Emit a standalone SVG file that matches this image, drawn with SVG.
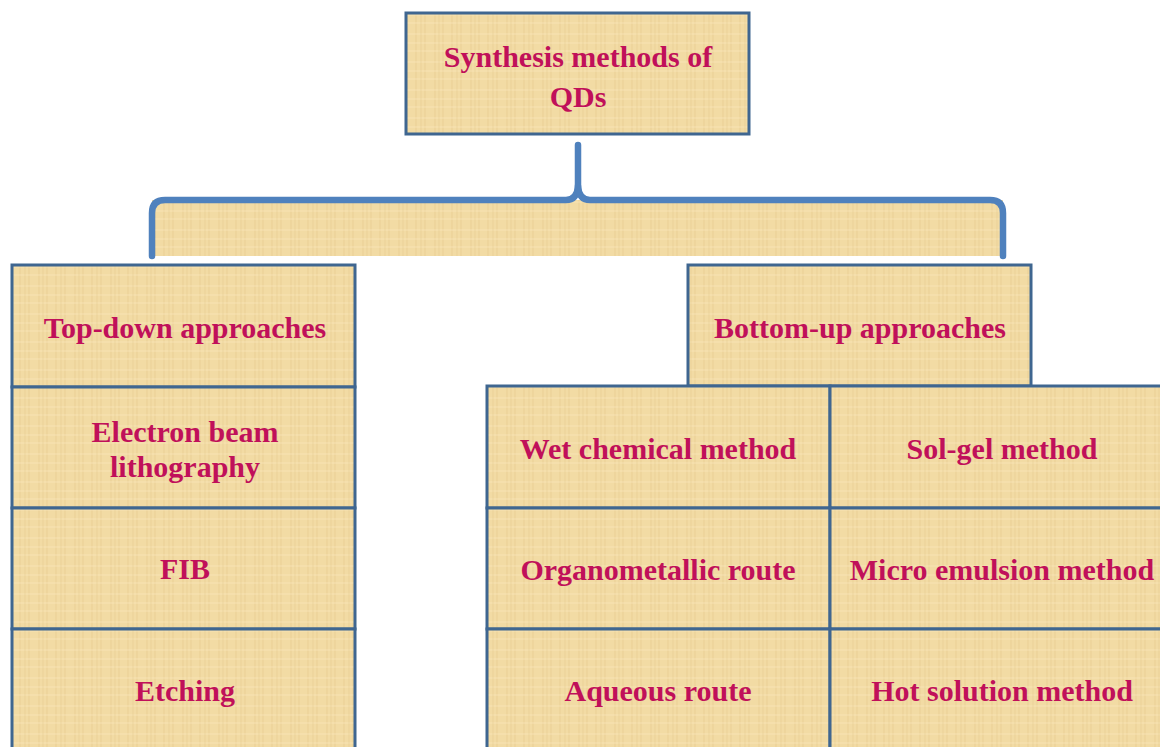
<svg xmlns="http://www.w3.org/2000/svg" width="1160" height="747" viewBox="0 0 1160 747">
<defs>
<pattern id="papyrus" patternUnits="userSpaceOnUse" width="36" height="28">
<rect width="36" height="28" fill="#f2dba4"/>
<path d="M3,0V28M11,0V28M20,0V28M29,0V28" stroke="#e2c487" stroke-width="1" opacity="0.55"/>
<path d="M0,6H36M0,15H36M0,23H36" stroke="#fbeac0" stroke-width="1.2" opacity="0.6"/>
<path d="M7,0V28M25,0V28" stroke="#d9b978" stroke-width="0.8" opacity="0.35"/>
</pattern>
<style>
.box{fill:url(#papyrus);stroke:#3f6690;stroke-width:3}
.t{font-family:"Liberation Serif","Times New Roman",serif;font-weight:bold;font-size:30px;fill:#c0105a;text-anchor:middle}
.brace{fill:none;stroke:#4f81bd;stroke-width:6.5;stroke-linecap:round;stroke-linejoin:round}
</style>
</defs>
<rect width="1160" height="747" fill="#ffffff"/>

<g id="root">
<rect class="box" x="406" y="13" width="343" height="121"/>
<text class="t" x="578" y="67">Synthesis methods of</text>
<text class="t" x="578" y="107">QDs</text>
</g>

<g id="connectors">
<rect x="152" y="200" width="851" height="56" fill="url(#papyrus)"/>
<path class="brace" d="M152,256 V213 Q152,200 165,200 H566 Q577,200 578,186 V145"/>
<path class="brace" d="M1003,256 V213 Q1003,200 990,200 H590 Q579,200 578,186"/>
</g>

<g id="top-down">
<rect class="box" x="12" y="265" width="343" height="122"/>
<text class="t" x="185" y="338">Top-down approaches</text>
</g>
<g id="ebl">
<rect class="box" x="12" y="387" width="343" height="121"/>
<text class="t" x="185" y="442">Electron beam</text>
<text class="t" x="185" y="477">lithography</text>
</g>
<g id="fib">
<rect class="box" x="12" y="508" width="343" height="121"/>
<text class="t" x="185" y="579">FIB</text>
</g>
<g id="etching">
<rect class="box" x="12" y="629" width="343" height="125"/>
<text class="t" x="185" y="701">Etching</text>
</g>

<g id="bottom-up">
<rect class="box" x="688" y="265" width="343" height="121"/>
<text class="t" x="860" y="338">Bottom-up approaches</text>
</g>
<g id="wet">
<rect class="box" x="487" y="386" width="343" height="122"/>
<text class="t" x="658" y="459">Wet chemical method</text>
</g>
<g id="solgel">
<rect class="box" x="830" y="386" width="345" height="122"/>
<text class="t" x="1002" y="459">Sol-gel method</text>
</g>
<g id="organo">
<rect class="box" x="487" y="508" width="343" height="121"/>
<text class="t" x="658" y="580">Organometallic route</text>
</g>
<g id="micro">
<rect class="box" x="830" y="508" width="345" height="121"/>
<text class="t" x="1002" y="580">Micro emulsion method</text>
</g>
<g id="aqueous">
<rect class="box" x="487" y="629" width="343" height="125"/>
<text class="t" x="658" y="701">Aqueous route</text>
</g>
<g id="hot">
<rect class="box" x="830" y="629" width="345" height="125"/>
<text class="t" x="1002" y="701">Hot solution method</text>
</g>
</svg>
